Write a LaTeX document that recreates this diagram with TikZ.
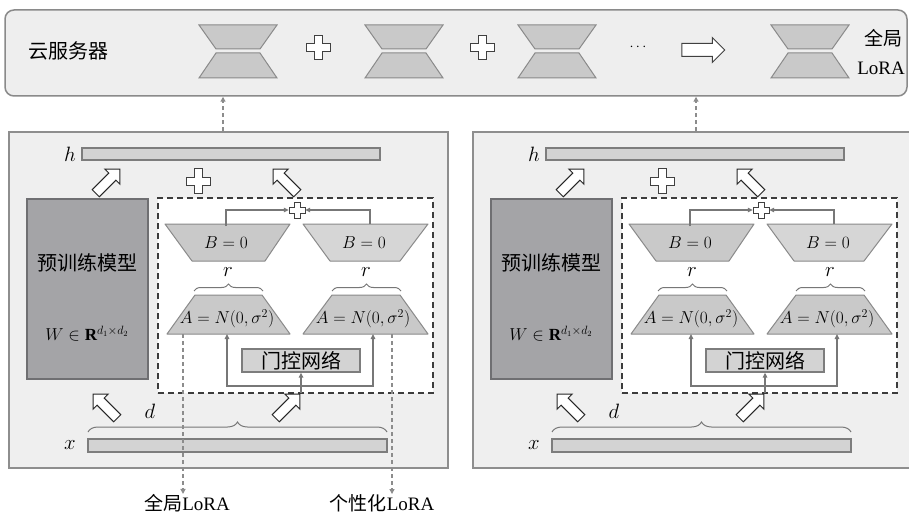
\documentclass[tikz,border=0pt]{standalone}
\usepackage{fontspec}
\setmainfont{Liberation Serif}
\newfontfamily\cjk{Noto Sans CJK SC}
\usetikzlibrary{shapes.geometric,shapes.arrows,decorations.pathreplacing,arrows.meta,calc}
\definecolor{panelfill}{HTML}{EFEFEF}
\definecolor{panelline}{HTML}{8E8E8E}
\definecolor{barfill}{HTML}{D3D3D3}
\definecolor{barline}{HTML}{7D7D7D}
\definecolor{ptfill}{HTML}{A4A4A7}
\definecolor{ptline}{HTML}{6F6F72}
\definecolor{trapfill}{HTML}{C9C9C9}
\definecolor{trapfilltwo}{HTML}{D6D6D6}
\definecolor{trapline}{HTML}{8A8A8A}
\definecolor{dashcol}{HTML}{3C3C3C}
\definecolor{conncol}{HTML}{777777}
\definecolor{dashgray}{HTML}{8C8C8C}
\definecolor{cloudfill}{HTML}{EEEEEE}
\definecolor{cloudline}{HTML}{8A8A8A}
\tikzset{
  panelbox/.style={draw=panelline, fill=panelfill, line width=1.5pt, inner sep=0},
  cloudbox/.style={draw=cloudline, fill=cloudfill, line width=1.5pt, rounded corners=9pt, inner sep=0},
  barbox/.style={draw=barline, fill=barfill, line width=1.2pt, inner sep=0},
  ptbox/.style={draw=ptline, fill=ptfill, line width=1.2pt, inner sep=0},
  dashbox/.style={draw=dashcol, fill=white, dash pattern=on 6pt off 4pt, line width=1.3pt, inner sep=0},
  gatebox/.style={draw=barline, fill=barfill, line width=1.3pt, inner sep=0},
  trapsty/.style={draw=trapline, fill=trapfill, line width=1pt, line join=round},
  anchorbox/.style={inner sep=0, outer sep=0},
  hollowarrow/.style={single arrow, draw=black!85, fill=white, line width=1pt, minimum height=34pt, inner sep=4.5pt, single arrow head extend=5.5pt},
  bigarrow/.style={single arrow, draw=black!75, fill=white, line width=1pt, minimum height=43pt, inner sep=6pt, single arrow head extend=6pt},
  conn/.style={draw=conncol, line width=1.3pt, -{Triangle[length=5pt,width=4.5pt]}},
  dasharr/.style={draw=dashgray, line width=1.2pt, dash pattern=on 4pt off 3pt, -{Triangle[length=5pt,width=5pt]}},
  bracestyle/.style={draw=conncol, line width=1pt, decorate},
  cjklab/.style={font=\cjk\fontsize{20}{22}\selectfont, inner sep=0},
  latlab/.style={font=\fontsize{19}{21}\selectfont, inner sep=0},
  mathlab/.style={font=\fontsize{17}{19}\selectfont, inner sep=0},
  letterlab/.style={font=\fontsize{20}{22}\selectfont, inner sep=0},
  pics/plusshape/.style 2 args={code={
    \draw[fill=white, draw=black!75, line width=1pt]
      (-#2,-#1) -- (#2,-#1) -- (#2,-#2) -- (#1,-#2) -- (#1,#2) -- (#2,#2) -- (#2,#1)
      -- (-#2,#1) -- (-#2,#2) -- (-#1,#2) -- (-#1,-#2) -- (-#2,-#2) -- cycle;
  }},
  pics/hourglass/.style={code={
    \draw[draw=cloudline, fill=trapfill, line width=1pt] (-39,-26) -- (39,-26) -- (22,-2) -- (-22,-2) -- cycle;
    \draw[draw=cloudline, fill=trapfill, line width=1pt] (-22,2) -- (22,2) -- (39,27) -- (-39,27) -- cycle;
  }},
}
\newcommand\lorapanel[1]{%
  \node[panelbox, minimum width=439pt, minimum height=336pt] (#1panel) at (228.5,300) {};
  \node[barbox, minimum width=298pt, minimum height=12pt] (#1hbar) at (231,154) {};
  \node[letterlab] (#1hlab) at (70,154) {$h$};
  \node[hollowarrow, rotate=45] (#1up1) at (106,183) {};
  \node[hollowarrow, rotate=135] (#1up2) at (287,183) {};
  \pic at (198,181) {plusshape={12}{4}};
  \node[ptbox, minimum width=121pt, minimum height=180pt] (#1pre) at (87.5,289) {};
  \node[cjklab] (#1prelab) at (87,263) {预训练模型};
  \node[mathlab] (#1W) at (87,334) {$W\in\mathbf{R}^{d_1\times d_2}$};
  \node[dashbox, minimum width=275pt, minimum height=195pt] (#1lora) at (295.5,295.5) {};
  % B trapezoids
  \draw[trapsty] (165,224) -- (290,224) -- (265,261) -- (192,261) -- cycle;
  \draw[trapsty, fill=trapfilltwo] (303,224) -- (428,224) -- (400,261) -- (330,261) -- cycle;
  \node[anchorbox, minimum width=125pt, minimum height=37pt] (#1B1) at (227.5,242.5) {};
  \node[anchorbox, minimum width=125pt, minimum height=37pt] (#1B2) at (365.5,242.5) {};
  \node[mathlab] (#1B1lab) at (226,243) {$B=0$};
  \node[mathlab] (#1B2lab) at (364,243) {$B=0$};
  \node[inner sep=0, minimum size=16pt] (#1sum) at (297,210) {};
  \pic at (297,210) {plusshape={8}{3}};
  \draw[conn] ([xshift=-1.5pt,yshift=-2pt]#1B1.north) |- (#1sum.west);
  \draw[conn] ([xshift=4.5pt]#1B2.north) |- (#1sum.east);
  \node[letterlab] (#1r1) at (228,272) {$r$};
  \node[letterlab] (#1r2) at (366,272) {$r$};
  \draw[bracestyle, decoration={brace, amplitude=7pt}] (194,291) -- (263,291);
  \draw[bracestyle, decoration={brace, amplitude=7pt}] (332,291) -- (401,291);
  % A trapezoids
  \draw[trapsty] (195,295) -- (262,295) -- (290,334) -- (167,334) -- cycle;
  \draw[trapsty] (332,295) -- (400,295) -- (428,334) -- (303,334) -- cycle;
  \node[anchorbox, minimum width=123pt, minimum height=39pt] (#1A1) at (228.5,314.5) {};
  \node[anchorbox, minimum width=125pt, minimum height=39pt] (#1A2) at (365.5,314.5) {};
  \node[mathlab] (#1A1lab) at (227,319) {$A=N(0,\sigma^2)$};
  \node[mathlab] (#1A2lab) at (363,319) {$A=N(0,\sigma^2)$};
  \node[gatebox, minimum width=118pt, minimum height=23pt] (#1gate) at (301,360.5) {};
  \node[cjklab] (#1gatelab) at (301,360.5) {门控网络};
  \coordinate (#1gin) at (301,393);
  \coordinate (#1split) at (301,386);
  \draw[conn] (#1gin) -- (#1gate.south);
  \draw[conn] (#1split) -| ([xshift=-1.5pt]#1A1.south);
  \draw[conn] (#1split) -| ([xshift=7.5pt]#1A2.south);
  \node[hollowarrow, rotate=135] (#1up3) at (107,408) {};
  \node[hollowarrow, rotate=45] (#1up4) at (286,408) {};
  \node[letterlab] (#1dlab) at (150,411) {$d$};
  \draw[bracestyle, decoration={brace, amplitude=10pt}] (88,432) -- (387,432);
  \node[letterlab] (#1xlab) at (70,445) {$x$};
  \node[barbox, minimum width=299pt, minimum height=13pt] (#1xbar) at (237.5,445.5) {};
}
\begin{document}
\begin{tikzpicture}[x=1pt,y=-1pt]
\useasboundingbox (0,0) rectangle (909,513);
\fill[white] (0,0) rectangle (909,513);
\clip (0,0) rectangle (909,513);
% cloud server
\node[cloudbox, minimum width=902pt, minimum height=86pt] (cloud) at (456,53) {};
\node[cjklab] (cloudlab) at (68,51) {云服务器};
\pic at (238,51) {hourglass};
\pic at (404,51) {hourglass};
\pic at (557,51) {hourglass};
\pic at (810,51) {hourglass};
\pic at (318,48) {plusshape={12}{4}};
\pic at (482,48) {plusshape={12}{4}};
\node[font=\fontsize{14}{16}\selectfont, inner sep=0] (dots) at (638,47) {$\cdots$};
\node[bigarrow] (resarrow) at (700,50) {};
\node[cjklab, font=\cjk\fontsize{19}{21}\selectfont] (glob1) at (883,38) {全局};
\node[latlab] (glob2) at (881,68) {LoRA};
% left client
\lorapanel{L}
\node[latlab] (glabel) at (187,503) {{\cjk 全局}LoRA};
\node[latlab] (plabel) at (382,503) {{\cjk 个性化}LoRA};
\draw[dasharr] ([xshift=-45.5pt]LA1.south) -- ([xshift=-45.5pt]LA1.south |- glabel.north);
\draw[dasharr] ([xshift=26.5pt]LA2.south) -- ([xshift=26.5pt]LA2.south |- plabel.north);
\draw[dasharr] ([xshift=-5.5pt]Lpanel.north) -- ([xshift=-5.5pt]Lpanel.north |- cloud.south);
% right client
\begin{scope}[xshift=464pt]
\lorapanel{R}
\draw[dasharr] ([xshift=3.5pt]Rpanel.north) -- ([xshift=3.5pt]Rpanel.north |- cloud.south);
\end{scope}
\end{tikzpicture}
\end{document}
